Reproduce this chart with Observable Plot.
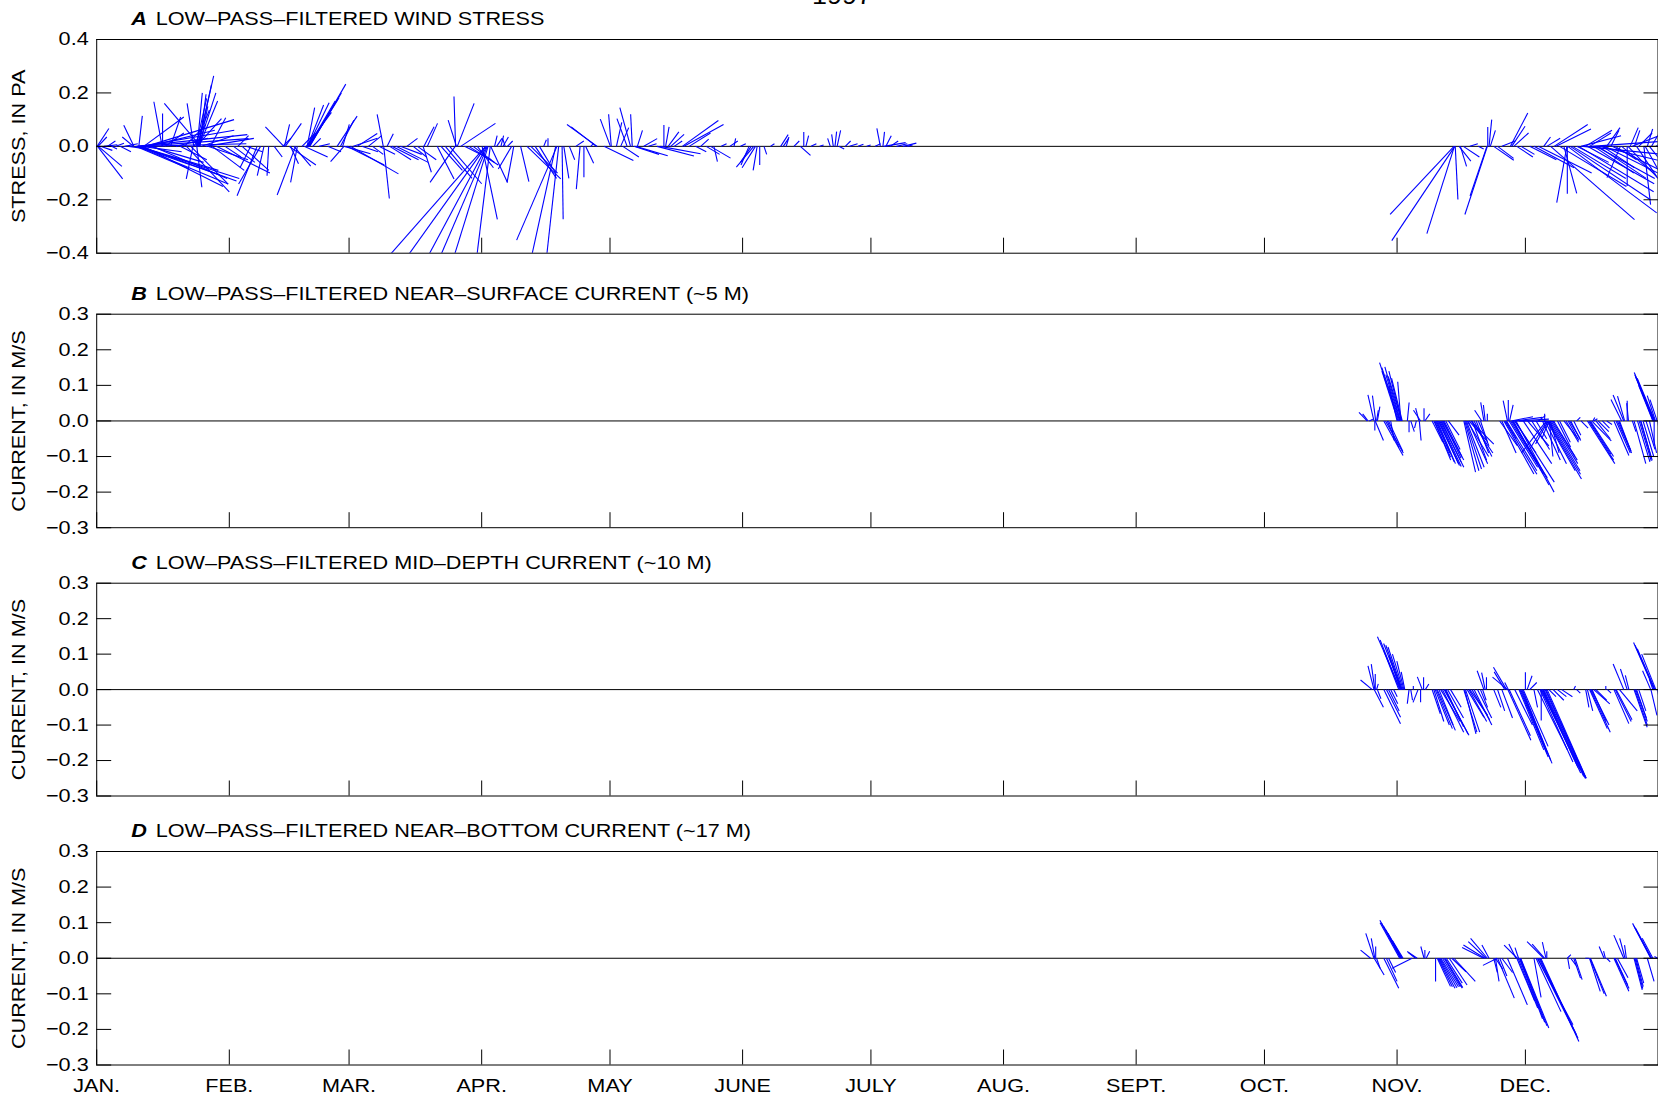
<!DOCTYPE html>
<html><head><meta charset="utf-8">
<script src="https://cdn.jsdelivr.net/npm/d3@7"></script>
<script src="https://cdn.jsdelivr.net/npm/@observablehq/plot@0.6"></script>
<style>
html,body{margin:0;padding:0;background:#fff;overflow:hidden;}
#chart{position:relative;width:1658px;height:1102px;}
#chart svg{position:absolute;left:0;}
</style></head><body><div id="chart"></div>
<script>
// ---- data: [day of 1997 (0 = Jan 1), east component, north component] ----
const yearLabel = "1997";
const monthLabels = ["JAN.","FEB.","MAR.","APR.","MAY","JUNE","JULY","AUG.","SEPT.","OCT.","NOV.","DEC."];
const stressTicks = [-0.4,-0.2,0,0.2,0.4];
const currentTicks = [-0.3,-0.2,-0.1,0,0.1,0.2,0.3];

const windStress = [
[0.1,.044,.067],[0.3,.033,.035],[0.2,.094,-.122],[0.4,.088,-.075],[0.9,.044,-.015],[1.7,.05,.006],
[2.5,.03,.02],[3.5,.02,-.01],[4.5,.03,.012],[5.5,.04,-.02],[6.5,.05,.01],[7.5,.08,-.012],
[8.6,-.042,.035],[8.7,-.038,.079],[9.1,.2,-.084],[9.3,.415,.044],[9.4,.31,-.107],[9.5,.34,-.141],[9.6,.38,-.12],[9.7,.3,-.09],[9.85,.013,.114],[9.9,.41,.029],[10.0,.4,.01],[10.2,.36,-.13],[10.3,.35,.06],[10.5,.15,-.02],[10.8,.3,-.15],[11.0,.15,.11],[11.5,.33,.1],[12.0,.25,.06],[12.5,.2,-.06],[13.0,.28,-.12],
[15.3,-.031,.167],[15.4,0,.123],[16.0,.07,.05],[17.25,.038,.11],[18.5,.12,.03],[19.5,.1,-.05],[20.5,.08,.08],
[21.0,.16,-.17],[22.0,.14,-.141],[22.5,-.025,-.122],[22.7,-.025,.161],[22.8,.057,.136],[23.2,.04,.18],[23.3,.094,.104],[23.4,.019,-.153],[23.5,.019,.2],[23.6,.06,.264],[23.7,.05,.23],[23.8,.065,.2],[23.9,.07,.17],[24.0,.025,.195],[24.1,.03,.15],[24.3,-.136,.161],[24.5,.12,.04],[25.5,.18,.03],[26.0,.15,-.05],[26.6,.057,.107],[27.0,.12,-.09],[28.0,.2,-.1],
[30.0,.06,-.04],[32.0,.08,-.06],[33.0,.04,.04],[34.0,.1,-.09],[35.0,.06,-.02],[36.0,-.04,-.08],[37.5,-.075,-.185],[38.3,-.082,-.141],[39.1,-.025,-.11],[40.2,-.006,-.11],[41.5,.03,-.04],
[43.5,.03,.03],[43.75,-.069,.073],[43.9,.019,.082],[44.1,.06,.086],[45.0,.1,-.07],[45.3,.03,-.065],[46.1,.063,-.074],[46.5,-.069,-.182],[46.9,-.025,-.135],[48.0,.05,.05],[48.5,.088,-.04],[49.0,.094,.127],[49.2,.028,.145],[49.3,.06,.155],[49.4,.079,.163],[49.5,.1,.17],[49.6,.113,.182],[49.7,.12,.2],[49.8,.135,.233],[50.5,.03,.03],[52,.04,.01],[54,.05,-.02],[56.2,.075,.113],[57.0,.05,.098],[57.5,.025,.082],[57.8,-.05,-.057],[57.9,.098,-.028],[58.5,.14,-.07],[59.3,.18,-.103],[60.0,.09,.03],[60.9,.075,.048],[62.0,.06,-.02],[63.5,.05,.04],[64.5,.04,-.03],
[66.0,.06,-.03],[67.0,-.023,.12],[67.1,.021,-.195],[67.9,.023,.047],[68.5,.08,-.05],[69.0,.1,-.05],[70,.12,-.06],[71,.08,-.03],[72.5,.04,.03],[74,.05,-.04],[75,.07,-.05],[76.3,.031,-.097],[76.5,.038,.073],[77.3,.038,.086],[79.6,.063,-.122],[80.5,.08,-.09],[81.5,.1,-.12],[82.5,.12,-.14],[83.8,-.094,-.135],[83.9,-.006,.187],[84.1,-.031,.098],[84.3,.063,.161],[85.1,.13,.086],[86,.1,-.05],[87,.11,-.07],[88,.08,-.06],[89,.06,-.08],[90.1,.057,-.273],[90.9,-.37,-.42],[91.0,-.3,-.42],[91.2,-.23,-.43],[91.35,-.18,-.42],[91.5,-.13,-.42],[92.0,-.05,-.41],[92.1,.063,-.135],[93.0,.01,.04],[93.5,.02,.03],
[94.5,.01,.04],[95,.02,.035],[95.5,-.01,.03],[96,.02,.02],[97,-.05,-.085],[97.5,-.025,-.135],[99.1,.031,-.132],[100.6,.126,-.122],[101.5,.1,-.1],[102.5,.08,-.12],[103.5,.06,-.1],[104.5,.01,.025],[105.5,0,.03],[107.3,-.092,-.42],[107.6,-.151,-.351],[108.0,-.046,-.42],[108.8,.004,-.273],[109.2,.019,-.12],[110.5,.02,-.05],[112,.03,.02],[113.0,-.014,-.16],[113.9,0,-.116],[114.3,.03,-.063],[115.5,.01,.01],[116.8,-.094,.073],[117.0,-.113,.082],[118.6,.11,-.053],
[120.1,-.038,.102],[120.3,-.01,.12],[121.5,.02,.09],[122.5,.03,.07],[123.0,.06,-.04],[124.0,-.038,.104],[124.8,-.04,.145],[125.2,-.006,.12],[125.6,.094,-.03],[126.0,.12,-.035],[126.4,.019,.06],[127.9,.05,.029],[129,.03,.01],[131.0,.138,-.036],[131.8,.15,-.028],[132.6,0,.08],[133.0,.013,.073],[133.6,.04,.054],[134.2,.05,.045],[135,.03,.02],[136.9,.135,.097],[137.3,.148,.082],[138.5,.08,.05],[140,.04,-.02],[141.2,.03,.027],[142.5,.05,-.03],[143.5,.075,-.044],[144.3,.013,-.057],[146,.02,.01],
[148.0,.03,.02],[149.0,.006,.03],[150.5,.02,.01],[152.5,-.03,-.07],[153.0,-.04,-.06],[153.6,-.065,-.078],[154.0,-.05,-.08],[154.4,-.015,-.09],[155,0,-.07],[156,.01,-.03],[157.5,.015,.01],[159.9,.028,.044],[160.5,.02,.03],[161.2,.01,.035],[163,.02,.02],[164.5,.038,-.034],[165.3,0,.054],[165.8,.01,.04],[167,.02,.01],[169,.015,.005],[171.5,-.01,.03],[172.2,-.006,.045],[172.6,.006,.055],[173.1,.013,.06],[173.5,.02,-.01],[175,.02,.02],[176,.03,.01],[178,.02,.008],[180,.015,.005],
[182,.02,.01],[183.2,-.013,.067],[183.8,.006,.054],[184.0,.082,.014],[184.5,.02,.04],[185.5,.03,.02],[187,.04,.01],[188.5,.05,.012],[189.5,.02,.005],
[317.3,-.239,-.255],[317.4,-.103,-.327],[317.5,-.236,-.353],[317.6,.01,-.199],[318.5,.044,-.055],[318.8,.023,-.075],[319.5,.06,-.04],[321,.03,.01],[323,.02,-.01],[325.0,-.063,-.186],[325.1,-.084,-.255],[325.2,0,.072],[325.5,.01,.1],[325.8,.019,.06],[326.6,.075,-.052],[327.5,.06,-.045],[328.5,.05,.02],[330.5,.065,.125],[330.8,.05,.075],[331.3,.055,.05],[332,.06,-.04],[333,.05,-.03],[335,.1,-.05],[336,.15,-.08],[337,.2,-.1],[338.3,.025,.035],[339,.05,.03],[339.9,.314,-.274],[340.7,.126,.082],[341.2,.13,.065],[342,.25,-.15],[343.0,.048,-.176],[343.7,-.038,-.211],[343.8,0,-.177],[343.9,.333,-.249],[344.5,.3,-.2],[345,.2,-.12],[346,.12,-.06],[346.5,.28,-.17],[347,.15,.04],[347.5,.3,-.03],[348,.1,.06],[348.5,.25,-.14],[349,.08,.05],[349.5,.28,.02],[350,.15,-.1],[350.5,.22,-.12],[351,.18,-.12],[351.5,.25,-.06],[352,.12,-.08],[352.5,.2,-.1],[353,.05,.07],[354,.03,.06],[354.3,.18,-.09],[355,.08,-.05],[356.2,-.05,-.117],[356.5,.12,-.1],[357.8,0,-.148],[358,.15,-.16],[358.5,.03,.07],[359,.1,.04],[359.5,.02,.06],[360,.08,-.12],[360.5,.05,.05],[361.7,.025,-.218],[362,.1,-.18],[362.5,.02,.065],[363,.08,-.1],[363.5,.04,.07],[364.5,.06,.04]
];

const surfaceCurrent = [
[297.0,-.023,.024],[297.2,-.015,.02],[297.5,.01,.005],[298.6,-.017,.073],[298.8,0,-.027],[298.9,.023,-.055],[299.0,-.009,.071],[299.2,.005,.03],[299.4,.007,.04],
[300.9,.054,-.097],[301.3,.05,-.09],[301.7,.033,-.075],[302.0,.04,-.085],[302.5,.01,-.055],[304.0,-.023,.099],[304.2,-.045,.14],[304.4,-.054,.164],[304.6,-.05,.15],[304.7,-.04,.13],[304.8,-.044,.152],[304.9,-.009,.11],[305.0,-.035,.14],[305.1,-.038,.125],[305.2,-.03,.12],[306.4,.005,.052],[306.8,0,-.032],[307.2,.01,-.03],
[308.5,-.005,-.02],[309.1,-.009,.036],[309.2,.005,-.055],[309.5,-.02,.03],[310.3,0,.036],[310.5,.014,.02],
[312.2,.03,-.06],[312.6,.047,-.102],[312.8,.045,-.11],[313.0,.04,-.09],[313.2,.05,-.115],[313.4,.051,-.12],[313.6,.06,-.125],[313.8,.055,-.12],[314.0,.06,-.128],[314.2,.065,-.13],[314.4,.055,-.115],[314.6,.06,-.11],[314.8,.05,-.105],[315.0,.05,-.1],[315.4,.04,-.08],[316.0,.03,-.04],
[319.6,.033,-.144],[319.8,.04,-.14],[320.0,.045,-.135],[320.2,.05,-.13],[320.4,.06,-.1],[320.6,.055,-.12],[320.8,.05,-.055],[321.2,.065,-.065],[321.4,.06,-.09],[321.6,.04,-.11],[322.0,.05,-.1],[322.5,.035,-.09],[323.0,.03,-.07],[323.5,.02,-.06],[323.8,-.02,.03],[324.3,-.009,.052],[324.6,-.005,.045],[325.1,0,.02],
[328.0,.05,-.07],[328.5,.04,-.09],[329.0,.084,-.149],[329.2,.09,-.15],[329.4,.03,-.05],[329.6,.085,-.14],[329.8,-.012,.057],[330.0,0,.059],[330.2,.08,-.13],[330.3,.01,.045],[330.5,.093,-.149],[330.7,.061,.012],[330.8,.1,-.16],[331.0,.07,-.12],[331.2,.1,-.18],[331.3,.08,.01],[331.5,.06,-.09],[331.6,.11,-.172],[331.8,.107,-.2],[332.0,.09,.005],[332.5,.1,-.002],
[333.5,.08,-.12],[334.5,.06,-.07],[335.5,.05,-.08],[336.5,.03,-.05],[337,.02,.015],[338.0,.05,-.11],[338.5,0,.02],[338.6,.06,-.12],[338.9,-.07,-.09],[339.0,.08,-.14],[339.1,-.05,-.08],[339.2,.095,-.163],[339.3,-.035,-.065],[339.4,.09,-.15],[339.5,-.02,-.05],[339.6,.01,-.1],[339.7,.085,-.14],[339.8,.025,-.09],[340.0,.075,-.12],[340.3,.07,-.11],[340.6,.06,-.1],
[341.5,.037,-.074],[342,.03,-.06],[343,.04,-.05],[343.5,.035,-.06],[344,.03,-.055],[344.3,.03,-.05],[344.6,.028,-.055],[345.3,.02,-.04],[346,.01,.01],[347,.02,-.02],
[348.5,.077,-.12],[348.8,.07,-.11],[349,.06,-.093],[349.2,.065,-.1],[349.5,.055,-.056],[349.8,.005,.01],[350.0,.01,.006],[350.5,.04,-.05],[351.0,.03,-.03],[352,.02,-.02],[353,.015,-.01],
[354.7,.042,-.097],[355.2,.04,-.09],[355.5,.04,-.09],[355.8,.035,-.085],[356.0,.03,-.08],[356.5,-.03,.06],[357.0,-.03,.073],[357.2,-.02,.07],[357.8,0,.057],[358.1,-.005,.05],[359.0,.01,-.03],
[359.4,.033,-.12],[360.2,.035,-.115],[360.6,.034,-.112],[360.9,.033,-.111],[361.0,.03,-.105],[361.5,.03,-.1],[362.2,.025,-.08],[363,.02,-.09],[363.8,-.04,.1],[363.9,-.05,.125],[364.0,-.053,.13],[364.1,-.056,.136],[364.15,-.047,.113],[364.1,0,-.07],[364.3,-.05,.12],[364.4,-.023,.071],[364.8,-.02,.06],[364.9,.01,-.055]
];

const midCurrent = [
[298.2,-.033,.027],[298.6,-.017,.067],[298.65,.026,-.05],[298.8,-.01,.072],[298.9,0,.044],[299.2,.005,.016],[299.4,.01,-.026],
[300.9,.047,-.096],[301.5,.04,-.078],[302.0,.03,-.06],[302.5,.02,-.04],[303.2,.01,-.02],[304.4,-.042,.109],[304.6,-.055,.14],[304.8,-.065,.149],[304.85,-.033,.095],[305.0,-.05,.13],[305.1,-.045,.125],[305.2,-.04,.12],[305.4,-.03,.1],[305.6,-.02,.08],[305.8,-.01,.05],
[306.8,-.005,-.04],[307.2,.005,-.03],[307.8,0,.01],[308.9,-.014,-.036],[309.5,0,-.036],[309.9,-.014,.036],[310.2,0,.035],[310.6,.01,.016],
[312.2,.023,-.068],[312.6,.028,-.09],[312.9,.04,-.1],[313.2,.045,-.11],[313.4,.051,-.115],[313.8,.04,-.1],[314.2,.055,-.09],[314.6,.06,-.12],[315.0,.07,-.129],[315.2,.065,-.125],[315.4,.05,-.105],[315.8,.045,-.08],[316.5,.03,-.05],
[319.6,.037,-.12],[319.8,.032,-.125],[320.0,.04,-.12],[320.4,.047,-.078],[320.8,.05,-.09],[321.0,.05,-.072],[321.5,.05,-.085],[322,.05,-.1],[322.8,.04,-.08],[323.5,.02,-.05],[324.0,.01,-.03],[324.3,-.019,.053],[324.6,-.01,.048],[324.9,0,.035],
[326.6,.02,-.05],[327.5,.02,-.06],[328.5,.03,-.08],[329.2,-.03,.05],[329.6,-.037,.063],[329.8,-.042,.035],[329.9,.065,-.143],[330.0,-.01,.02],[330.2,.06,-.13],[331.5,.05,-.1],[332.5,.07,-.17],[332.7,.08,-.19],[332.9,.075,-.18],[333.1,.086,-.208],[333.3,.08,-.2],[333.5,.07,-.16],
[334.0,0,.049],[334.4,.014,.039],[335.0,.02,.02],[336.0,.01,-.05],[336.8,.085,-.17],[337.4,.093,-.204],[337.6,.112,-.227],[337.7,0,-.087],[337.8,.11,-.235],[338.0,.1,-.22],[338.1,.115,-.245],[338.3,.117,-.25],[338.6,.115,-.25],[338.8,.113,-.25],[339.1,.11,-.25],
[339.5,.02,-.02],[340.5,.03,-.03],[341.5,.025,-.02],[342.5,.03,-.02],[345.3,.005,.01],[346,.01,-.01],[348.1,.009,-.05],[348.5,.015,-.06],[349.0,.05,-.11],[349.2,.056,-.12],[349.4,.05,-.1],[349.6,.04,-.09],[350.0,.045,-.04],[350.5,.03,-.03],[352.8,0,.01],[353.2,.01,-.01],
[354.7,.042,-.096],[355.0,.045,-.09],[355.2,.045,-.085],[356,.05,-.06],[357.0,-.03,.072],[357.8,-.019,.058],[358.2,-.01,.04],[359.4,.037,-.106],[359.6,.035,-.1],[359.8,.03,-.08],[360.0,.03,-.09],[360.5,.02,-.06],
[363.3,-.023,.053],[363.35,.017,-.073],[363.8,-.01,.03],[364.1,-.058,.133],[364.2,-.055,.125],[364.3,-.05,.115],[364.5,-.04,.1],[364.8,.015,-.06],[365.0,.01,-.04]
];

const bottomCurrent = [
[297.8,-.028,.023],[298.6,-.023,.07],[298.65,.028,-.047],[298.8,-.01,.056],[299.0,0,.033],[299.2,.01,-.028],
[300.9,.042,-.084],[301.5,.03,-.065],[302.0,.02,-.04],[304.6,-.055,.1],[304.8,-.058,.107],[304.9,-.055,.1],[305.0,-.05,.09],[305.1,-.045,.08],[305.2,-.04,.07],[305.4,-.03,.05],
[307.5,-.056,-.028],[308.3,-.02,.016],[308.7,-.028,.019],[310.3,-.009,.033],[310.5,0,.023],[310.8,.01,.02],
[313.0,0,-.065],[313.4,.037,-.079],[313.6,.04,-.08],[313.8,.045,-.084],[314.0,.048,-.083],[314.2,.05,-.08],[314.6,.05,-.08],[315.0,.051,-.084],[315.2,.05,-.082],[315.5,.045,-.07],[316.2,.05,-.075],[316.8,.04,-.038],[317.3,.06,-.065],
[324.2,-.06,.03],[324.5,-.06,.037],[324.8,-.05,.047],[325.1,-.047,.056],[325.5,-.02,.037],[326.6,.01,-.04],[327.0,.02,-.03],[327.4,-.04,-.02],
[327.5,.047,-.112],[327.0,.01,-.065],[328.0,.02,-.05],[328.5,.03,-.04],[329.8,.056,-.131],[331.8,-.02,.04],[332.0,.05,-.12],[332.1,-.037,.037],[332.3,.055,-.14],[332.4,-.01,.03],[332.6,.065,-.17],[332.7,.07,-.18],[332.8,.075,-.19],[332.9,.079,-.196],
[336.0,.02,-.11],[336.5,.07,-.15],[336.8,.1,-.187],[336.9,.1,-.2],[337.2,.105,-.215],[337.4,.107,-.225],[337.6,.107,-.234],[338.3,-.047,.047],[338.5,-.035,.04],[338.8,-.01,.045],[339.0,0,.02],
[343.8,.01,.01],[343.9,.005,-.03],[344.6,.015,-.02],[345.3,.019,-.056],[345.6,.02,-.06],[348,.01,0],[349.0,.03,-.093],[349.1,.04,-.1],[349.2,.045,-.107],[352.4,-.014,.033],[352.7,-.005,.02],[353.0,.01,-.01],
[354.7,.042,-.093],[354.9,.04,-.085],[355.0,.035,-.075],[355.5,.03,-.055],[357.0,-.028,.065],[357.3,-.015,.056],[357.6,-.005,.037],
[359.4,.023,-.089],[359.6,.022,-.085],[359.8,.021,-.08],[360.0,.02,-.07],[362.5,.019,-.065],[363.3,-.051,.098],[363.4,-.048,.09],[363.5,-.045,.084],[363.8,-.03,.056],[364.5,.01,0],[365.0,-.01,.005]
];

// ---- layout ----
const W = 1658, ML = 96.2, MR = 0.5;
const FONT = "'Liberation Sans', Arial, Helvetica, sans-serif";
const FS = 18.5, STRETCH = 1.17;
const t0 = Date.UTC(1997, 0, 1);
const day = d => new Date(t0 + d * 864e5);
const monthStarts = d3.range(12).map(m => new Date(Date.UTC(1997, m, 1)));
const fmt = d3.format(".1f");

const panels = [
  {top: 0, height: 275, mt: 39, mb: 22.3, ymin: -0.4, ymax: 0.4, ticks: stressTicks, data: windStress,
   letter: "A", title: "LOW–PASS–FILTERED WIND STRESS", ylabel: "STRESS, IN PA", year: true},
  {top: 275, height: 269, mt: 38.7, mb: 16.8, ymin: -0.3, ymax: 0.3, ticks: currentTicks, data: surfaceCurrent,
   letter: "B", title: "LOW–PASS–FILTERED NEAR–SURFACE CURRENT (~5 M)", ylabel: "CURRENT, IN M/S"},
  {top: 544, height: 268, mt: 38.7, mb: 16.5, ymin: -0.3, ymax: 0.3, ticks: currentTicks, data: midCurrent,
   letter: "C", title: "LOW–PASS–FILTERED MID–DEPTH CURRENT (~10 M)", ylabel: "CURRENT, IN M/S"},
  {top: 812, height: 290, mt: 39, mb: 37.5, ymin: -0.3, ymax: 0.3, ticks: currentTicks, data: bottomCurrent,
   letter: "D", title: "LOW–PASS–FILTERED NEAR–BOTTOM CURRENT (~17 M)", ylabel: "CURRENT, IN M/S", xlabels: true}
];

const chart = document.getElementById("chart");
for (const p of panels) {
  const innerW = W - ML - MR;
  const innerH = p.height - p.mt - p.mb;
  // days of time axis per unit of vector component, so sticks keep their true direction
  const K = (innerH / (p.ymax - p.ymin)) / (innerW / 365);
  const sticks = p.data.map(([d, u, v]) => ({t1: day(d), t2: day(d + u * K), v}));
  const marks = [
    Plot.ruleY([0], {stroke: "black", strokeWidth: 1}),
    Plot.link(sticks, {x1: "t1", y1: () => 0, x2: "t2", y2: "v", stroke: "#0000ff", strokeWidth: 1.1, clip: true}),
    Plot.frame({stroke: "black", strokeWidth: 1}),
    Plot.axisY({anchor: "left", ticks: p.ticks, tickFormat: fmt, tickSize: -15, tickPadding: 23, label: null, fontSize: FS}),
    Plot.axisY({anchor: "right", ticks: p.ticks, tickFormat: () => "", tickSize: -15, label: null}),
    Plot.axisX({anchor: "bottom", ticks: monthStarts, tickFormat: p.xlabels ? (d => monthLabels[d.getUTCMonth()]) : () => "",
                tickSize: -15, tickPadding: 29, label: null, fontSize: FS}),
    Plot.text([p.ylabel], {text: d => d, frameAnchor: "left", dx: -77.2, rotate: -90, textAnchor: "middle", lineAnchor: "middle", fontSize: FS}),
    Plot.text([p.letter], {text: d => d, frameAnchor: "top-left", dx: 34.5, dy: -20, textAnchor: "start", lineAnchor: "middle",
                           fontWeight: "bold", fontStyle: "italic", fontSize: FS}),
    Plot.text([p.title], {text: d => d, frameAnchor: "top-left", dx: 59, dy: -20, textAnchor: "start", lineAnchor: "middle", fontSize: FS})
  ];
  if (p.year) marks.push(Plot.text([yearLabel], {text: d => d, frameAnchor: "top", dx: -35.4, dy: -42.4, lineAnchor: "middle", fontSize: 23}));
  const svg = Plot.plot({
    width: W, height: p.height,
    marginLeft: ML, marginRight: MR, marginTop: p.mt, marginBottom: p.mb,
    x: {type: "utc", domain: [new Date(t0), new Date(Date.UTC(1998, 0, 1))]},
    y: {domain: [p.ymin, p.ymax]},
    style: {fontFamily: FONT, fontSize: FS + "px", background: "transparent", color: "black", overflow: "visible"},
    marks
  });
  svg.style.top = p.top + "px";
  // the reference typography is horizontally widened
  svg.querySelectorAll("text").forEach(t => {
    const tr = t.getAttribute("transform") || "";
    t.setAttribute("transform", tr + ` scale(${STRETCH},1)`);
  });
  chart.appendChild(svg);
}
</script></body></html>
